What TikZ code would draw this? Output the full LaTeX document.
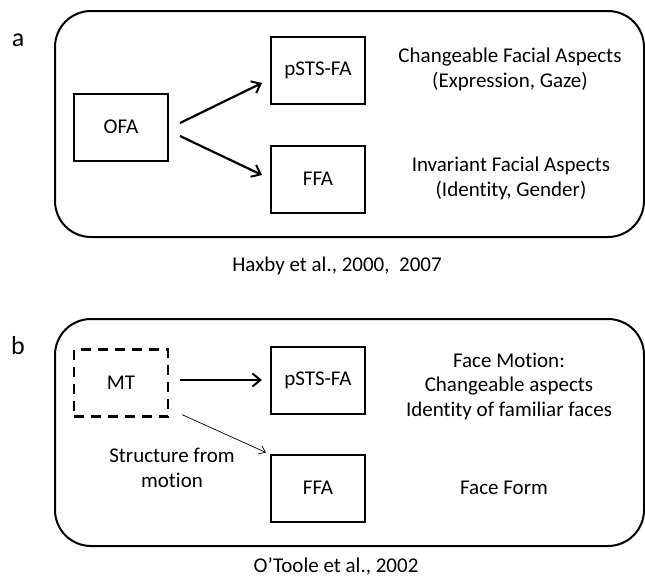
\documentclass[tikz,border=0pt]{standalone}
\usepackage{fontspec}
\setmainfont{Carlito}[Ligatures=NoCommon]
\usetikzlibrary{arrows.meta,calc}
\begin{document}
\begin{tikzpicture}[x=1pt,y=-1pt,
  every node/.style={font=\fontsize{21}{25}\selectfont},
  panel/.style={draw=black,line width=2pt,rounded corners=36pt},
  areabox/.style={draw=black,line width=2pt,minimum width=94pt,minimum height=67pt,inner sep=0pt,font=\fontsize{21}{25}\selectfont},
  dashbox/.style={areabox,line width=2.4pt,dash pattern=on 10pt off 7pt},
  bigarrow/.style={line width=2.2pt,-{Straight Barb[length=8pt,width=13pt,line width=2pt]}},
  thinarrow/.style={line width=0.7pt,-{Straight Barb[length=6pt,width=9pt,line width=0.7pt]}},
  desc/.style={align=center,inner sep=0pt},
  plabel/.style={font=\fontsize{26}{30}\selectfont,inner sep=0pt}]
\useasboundingbox (0,0) rectangle (645,579);
% panel a
\draw[panel] (55,11) rectangle (644,237);
\node[plabel] (la) at (18,40) {a};
\node[areabox] (OFA) at (121,127) {OFA};
\node[areabox] (pSTSa) at (318,70) {pSTS-FA};
\node[areabox] (FFAa) at (318,179) {FFA};
\draw[bigarrow] ($(OFA.east)+(11,-4)$) -- ($(pSTSa.west)+(-8,13)$);
\draw[bigarrow] ($(OFA.east)+(11,9)$) -- ($(FFAa.west)+(-8,-4)$);
\node[desc] (ta1) at (510,57) {Changeable Facial Aspects};
\node[desc] (ta2) at (510,82) {(Expression, Gaze)};
\node[desc] (ta3) at (511,166) {Invariant Facial Aspects};
\node[desc] (ta4) at (511,191) {(Identity, Gender)};
\node[desc] (refa) at (337,266) {Haxby et al., 2000,\ \ 2007};
% panel b
\draw[panel] (55,319) rectangle (644,546);
\node[plabel] (lb) at (18,346) {b};
\node[dashbox] (MT) at (121,383) {MT};
\node[areabox] (pSTSb) at (318,380) {pSTS-FA};
\node[areabox] (FFAb) at (318,488) {FFA};
\draw[bigarrow] ($(MT.east)+(11,-3)$) -- ($(pSTSb.west)+(-8,0)$);
\draw[thinarrow] ($(MT.south east)+(13,-3)$) -- ($(FFAb.north west)+(-4,-1)$);
\node[desc] (sfm) at (172,468) {Structure from\\motion};
\node[desc] (tb1) at (509,360) {Face Motion:};
\node[desc] (tb2) at (509,386) {Changeable aspects};
\node[desc] (tb3) at (509,411) {Identity of familiar faces};
\node[desc] (tb4) at (504,488) {Face Form};
\node[desc] (refb) at (336,566) {O’Toole et al., 2002};
\end{tikzpicture}
\end{document}
